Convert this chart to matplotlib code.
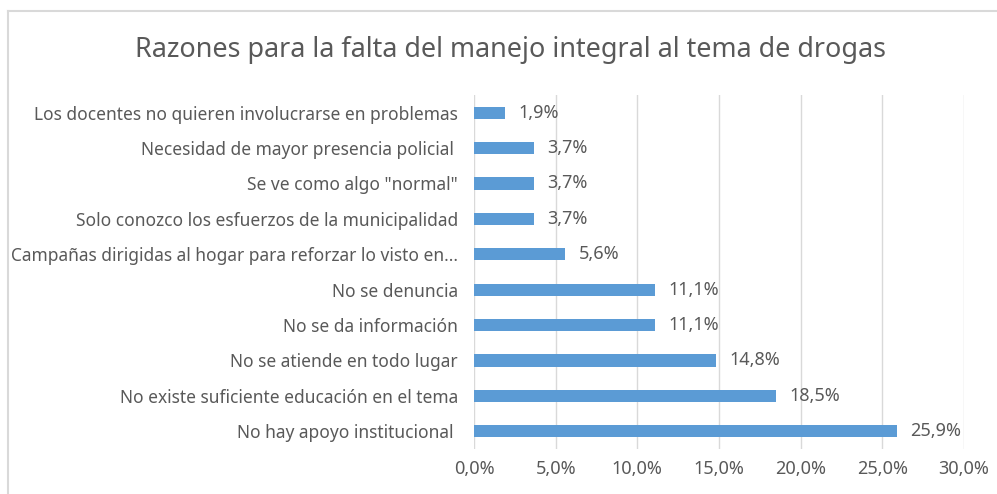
import matplotlib.pyplot as plt
from matplotlib.lines import Line2D

categories = [
    "Los docentes no quieren involucrarse en problemas",
    "Necesidad de mayor presencia policial ",
    "Se ve como algo \"normal\"",
    "Solo conozco los esfuerzos de la municipalidad",
    "Campañas dirigidas al hogar para reforzar lo visto en...",
    "No se denuncia",
    "No se da información",
    "No se atiende en todo lugar",
    "No existe suficiente educación en el tema",
    "No hay apoyo institucional ",
]
values = [1.9, 3.7, 3.7, 3.7, 5.6, 11.1, 11.1, 14.8, 18.5, 25.9]
xticks = [0, 5, 10, 15, 20, 25, 30]

text_color = "#595959"
plt.rcParams['font.family'] = ['Noto Sans', 'DejaVu Sans']

fig = plt.figure(figsize=(9.97, 4.94), dpi=100)
ax = fig.add_axes([0.4754, 0.0911, 0.4915, 0.7166])

pos = list(range(len(categories)))
ax.barh(pos, values, height=0.35, color="#5B9BD5", zorder=3)
for p, v in zip(pos, values):
    ax.annotate(f"{v:.1f}%".replace(".", ","), (v, p), xytext=(9.5, 0),
                textcoords="offset points", va="center", ha="left",
                fontsize=13, color=text_color)

ax.set_xlim(0, 30)
ax.set_ylim(9.5, -0.5)
ax.set_xticks(xticks)
ax.set_xticklabels([f"{t:.1f}%".replace(".", ",") for t in xticks])
ax.set_yticks(pos)
ax.set_yticklabels(categories, fontsize=12.5)
ax.tick_params(axis="both", length=0, colors=text_color)
ax.tick_params(axis="x", pad=8, labelsize=13)
ax.tick_params(axis="y", pad=11.5)
ax.grid(axis="x", color="#D9D9D9", linewidth=1, zorder=0)
for s in ax.spines.values():
    s.set_visible(False)

fig.text(0.512, 0.899, "Razones para la falta del manejo integral al tema de drogas",
         ha="center", va="center", fontsize=19.4, color=text_color)

# chart border (top and left edges visible)
fig.add_artist(Line2D([0.008, 1.0], [0.978, 0.978], color="#D9D9D9", lw=1.5,
                      transform=fig.transFigure))
fig.add_artist(Line2D([0.0085, 0.0085], [0.0, 0.978], color="#D9D9D9", lw=1.5,
                      transform=fig.transFigure))

fig.savefig("out.png", dpi=100)
